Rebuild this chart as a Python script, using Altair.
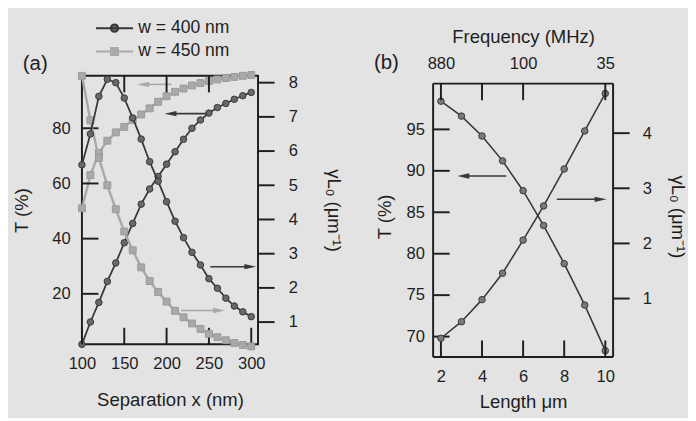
import altair as alt
import pandas as pd

FONT = "Liberation Sans"
INK = "#1e1e1e"
DARK_LINE = "#383838"
DARK_FILL = "#686868"
LIGHT = "#a9a9a9"
BG = "#e3e3e3"

# ---------------- panel (a) data ----------------
sep = [100, 110, 120, 130, 140, 150, 160, 170, 180, 190, 200,
       210, 220, 230, 240, 250, 260, 270, 280, 290, 300]
T_w400 = [1.7, 9.8, 16.9, 24.5, 31.2, 38.5, 45.5, 52.5, 58.0, 62.5, 67.0,
          71.5, 76.0, 80.0, 83.0, 85.5, 87.5, 89.0, 90.5, 91.8, 93.0]
g_w400 = [5.6, 6.5, 7.6, 8.1, 8.0, 7.55, 6.97, 6.35, 5.69, 5.12, 4.52,
          3.95, 3.47, 3.04, 2.67, 2.27, 1.99, 1.70, 1.47, 1.30, 1.16]
T_w450 = [51.0, 63.0, 71.0, 75.5, 78.5, 80.5, 83.0, 85.0, 87.2, 89.6, 91.6,
          93.2, 94.4, 95.5, 96.4, 97.1, 97.7, 98.2, 98.6, 99.0, 99.3]
g_w450 = [8.2, 6.9, 5.8, 5.0, 4.3, 3.65, 3.1, 2.6, 2.2, 1.88, 1.6,
          1.33, 1.14, 0.96, 0.8, 0.66, 0.56, 0.47, 0.39, 0.33, 0.29]

a_x_ticks = [100, 150, 200, 250, 300]
a_top_ticks = [150, 200, 250]
a_T_ticks = [20, 40, 60, 80]
a_g_ticks = [1, 2, 3, 4, 5, 6, 7, 8]

a_arrows_T = pd.DataFrame({"xt": [248.0, 205.7], "xh": [204.6, 172.4], "y": [85.3, 95.9],
                           "c": ["d", "l"]})
a_arrows_g = pd.DataFrame({"xt": [251.7, 217.0], "xh": [298.9, 262.0], "y": [2.62, 1.34],
                           "c": ["d", "l"]})

legend_names = ["w = 400 nm", "w = 450 nm"]

# ---------------- panel (b) data ----------------
length = [2, 3, 4, 5, 6, 7, 8, 9, 10]
T_b = [98.4, 96.6, 94.2, 91.2, 87.6, 83.4, 78.8, 73.8, 68.3]
g_b = [0.28, 0.58, 0.98, 1.46, 2.06, 2.68, 3.35, 4.04, 4.72]
b_x_ticks = [2, 4, 6, 8, 10]
b_top_ticks = [2, 4, 6, 10]
freq_at = [2, 6, 10]
freq_lab = ["880", "100", "35"]
b_T_ticks = [70, 75, 80, 85, 90, 95]
b_g_ticks = [1, 2, 3, 4]
b_arrow_T = pd.DataFrame({"xt": [5.18], "xh": [3.09], "y": [89.37]})
b_arrow_g = pd.DataFrame({"xt": [7.64], "xh": [9.77], "y": [2.8]})

LEFT_HEAD = "M-1,0L1,-0.45L1,0.45Z"
RIGHT_HEAD = "M1,0L-1,-0.45L-1,0.45Z"

TICK_LEN = 17
LBL = 17
TTL = 19
COMMON_AX = dict(ticks=False, domain=False, grid=False, labelFlush=False, labelOverlap=False)


def curve(df, X, Y, ycol, line_color, lw, shape, size, fill, stroke):
    line = alt.Chart(df).mark_line(color=line_color, strokeWidth=lw).encode(x=X, y=Y(ycol))
    pts = alt.Chart(df).mark_point(filled=True, shape=shape, size=size, fill=fill,
                                   stroke=stroke, strokeWidth=1, opacity=1).encode(x=X, y=Y(ycol))
    return [line, pts]


def arrows(df, X, Y, head, color):
    shaft = alt.Chart(df).mark_rule(color=color, strokeWidth=1.6).encode(
        x=X("xt"), x2="xh", y=Y("y"))
    tip = alt.Chart(df).mark_point(filled=True, shape=head, size=150, color=color,
                                   opacity=1).encode(x=X("xh"), y=Y("y"))
    return [shaft, tip]


def hmark(values, Y, xcenter):
    """short horizontal tick marks at the given y values"""
    return alt.Chart(pd.DataFrame({"tv": values})).mark_tick(
        color=INK, size=TICK_LEN, thickness=2, orient="horizontal", opacity=1).encode(
        y=Y("tv"), x=alt.value(xcenter))


def vmark(values, X, ycenter):
    """short vertical tick marks at the given x values"""
    return alt.Chart(pd.DataFrame({"tv": values})).mark_tick(
        color=INK, size=TICK_LEN, thickness=2, orient="vertical", opacity=1).encode(
        x=X("tv"), y=alt.value(ycenter))


# ================= panel (a) =================
WA, HA = 181, 276
xa_scale = alt.Scale(domain=[100.0, 308.0], nice=False, zero=False)
Ta_scale = alt.Scale(domain=[1.7, 99.0], nice=False, zero=False)
ga_scale = alt.Scale(domain=[0.35, 8.2], nice=False, zero=False)


def XA(field):
    return alt.X(field, type="quantitative", scale=xa_scale,
                 axis=alt.Axis(values=a_x_ticks, labelPadding=12, title="Separation x (nm)",
                               titlePadding=20, format="d", **COMMON_AX))


def YTa(field):
    return alt.Y(field, type="quantitative", scale=Ta_scale,
                 axis=alt.Axis(orient="left", values=a_T_ticks, labelPadding=12, title="T (%)",
                               titlePadding=21, **COMMON_AX))


def Yga(field):
    return alt.Y(field, type="quantitative", scale=ga_scale,
                 axis=alt.Axis(orient="right", values=a_g_ticks, labelPadding=TICK_LEN + 14,
                               title="γL₀ (μm⁻¹)", titlePadding=27, **COMMON_AX))


dfa = pd.DataFrame({"x": sep, "T4": T_w400, "g4": g_w400, "T5": T_w450, "g5": g_w450})

a_left = alt.layer(
    *curve(dfa, XA("x"), YTa, "T5", LIGHT, 2.5, "square", 50, LIGHT, "#999999"),
    *curve(dfa, XA("x"), YTa, "T4", DARK_LINE, 1.8, "circle", 45, DARK_FILL, DARK_LINE),
    *arrows(a_arrows_T[a_arrows_T.c == "l"], XA, YTa, LEFT_HEAD, LIGHT),
    *arrows(a_arrows_T[a_arrows_T.c == "d"], XA, YTa, LEFT_HEAD, DARK_LINE),
    hmark(a_T_ticks, YTa, TICK_LEN / 2),
    vmark(a_x_ticks, XA, HA - TICK_LEN / 2),
    vmark(a_top_ticks, XA, TICK_LEN / 2),
)

a_right = alt.layer(
    *curve(dfa, XA("x"), Yga, "g5", LIGHT, 2.5, "square", 50, LIGHT, "#999999"),
    *curve(dfa, XA("x"), Yga, "g4", DARK_LINE, 1.8, "circle", 45, DARK_FILL, DARK_LINE),
    *arrows(a_arrows_g[a_arrows_g.c == "l"], XA, Yga, RIGHT_HEAD, LIGHT),
    *arrows(a_arrows_g[a_arrows_g.c == "d"], XA, Yga, RIGHT_HEAD, DARK_LINE),
    hmark(a_g_ticks, Yga, WA + TICK_LEN / 2),
)

P_CIRC = "M-1,0L1,0M-0.2,0A0.2,0.2,0,1,1,0.2,0A0.2,0.2,0,1,1,-0.2,0Z"
P_SQR = "M-1,0L1,0M-0.19,-0.19L0.19,-0.19L0.19,0.19L-0.19,0.19Z"
LEG = alt.Legend(title=None, orient="none", legendX=13, legendY=-60, symbolSize=1450,
                 symbolStrokeWidth=2, labelFont=FONT, labelFontSize=18, labelColor=INK,
                 clipHeight=22, rowPadding=2, symbolOpacity=1, padding=0, labelOffset=4)
a_legend = alt.Chart(pd.DataFrame({"series": legend_names})).mark_point(
    filled=True, opacity=0).encode(
    fill=alt.Fill("series:N", scale=alt.Scale(domain=legend_names, range=[DARK_FILL, LIGHT]), legend=LEG),
    stroke=alt.Stroke("series:N", scale=alt.Scale(domain=legend_names, range=[DARK_LINE, LIGHT]), legend=LEG),
    shape=alt.Shape("series:N", scale=alt.Scale(domain=legend_names, range=[P_CIRC, P_SQR]), legend=LEG),
)

a_label = alt.Chart(pd.DataFrame({"t": ["(a)"]})).mark_text(
    font=FONT, fontSize=21, color=INK, align="center", baseline="middle").encode(
    text="t:N", x=alt.value(-48), y=alt.value(-12))

panel_a = alt.layer(a_left, a_right, a_legend, a_label).resolve_scale(
    y="independent", fill="independent", stroke="independent", shape="independent"
).properties(width=WA, height=HA)

# ================= panel (b) =================
# the (b) frame sits TOPGAP px below the top of its view (its box is drawn with rules)
TOPGAP = 8
WB, HB = 185, 289
xb_scale = alt.Scale(domain=[1.62, 10.38], nice=False, zero=False)
Tb_scale = alt.Scale(domain=[67.54, 101.46], nice=False, zero=False)
gb_scale = alt.Scale(domain=[-0.06, 5.04], nice=False, zero=False)


def XB(field):
    return alt.X(field, type="quantitative", scale=xb_scale,
                 axis=alt.Axis(values=b_x_ticks, labelPadding=12, title="Length μm",
                               titlePadding=9, **COMMON_AX))


def XB_none(field):
    return alt.X(field, type="quantitative", scale=xb_scale, axis=None)


freq_expr = " : ".join(f"datum.value == {v} ? '{l}'" for v, l in zip(freq_at, freq_lab)) + " : ''"


def XB_top(field):
    return alt.X(field, type="quantitative", scale=xb_scale,
                 axis=alt.Axis(orient="top", values=b_x_ticks, labelPadding=12,
                               labelExpr=freq_expr, offset=-TOPGAP,
                               title="Frequency (MHz)", titlePadding=8, **COMMON_AX))


def YTb(field):
    return alt.Y(field, type="quantitative", scale=Tb_scale,
                 axis=alt.Axis(orient="left", values=b_T_ticks, labelPadding=9, title="T (%)",
                               titlePadding=12, **COMMON_AX))


def Ygb(field):
    return alt.Y(field, type="quantitative", scale=gb_scale,
                 axis=alt.Axis(orient="right", values=b_g_ticks, labelPadding=TICK_LEN + 13,
                               title="γL₀ (μm⁻¹)", titlePadding=17, **COMMON_AX))


dfb = pd.DataFrame({"L": length, "T": T_b, "g": g_b})


def frame(enc):
    return alt.Chart(pd.DataFrame({"k": [0]})).mark_rule(color=INK, strokeWidth=2).encode(**enc)


b_left = alt.layer(
    *curve(dfb, XB("L"), YTb, "T", DARK_LINE, 1.6, "circle", 45, "#7a7a7a", DARK_LINE),
    *arrows(b_arrow_T, XB, YTb, LEFT_HEAD, DARK_LINE),
    hmark(b_T_ticks, YTb, TICK_LEN / 2),
    vmark(b_x_ticks, XB, HB - TICK_LEN / 2),
    frame(dict(x=alt.value(0), x2=alt.value(WB), y=alt.value(TOPGAP))),
    frame(dict(x=alt.value(0), x2=alt.value(WB), y=alt.value(HB))),
    frame(dict(x=alt.value(0), y=alt.value(TOPGAP), y2=alt.value(HB))),
    frame(dict(x=alt.value(WB), y=alt.value(TOPGAP), y2=alt.value(HB))),
)

b_right = alt.layer(
    *curve(dfb, XB_none("L"), Ygb, "g", DARK_LINE, 1.6, "circle", 45, "#7a7a7a", DARK_LINE),
    *arrows(b_arrow_g, XB_none, Ygb, RIGHT_HEAD, DARK_LINE),
    hmark(b_g_ticks, Ygb, WB + TICK_LEN / 2),
)

b_top = vmark(b_top_ticks, XB_top, TOPGAP + TICK_LEN / 2)

b_label = alt.Chart(pd.DataFrame({"t": ["(b)"]})).mark_text(
    font=FONT, fontSize=21, color=INK, align="center", baseline="middle").encode(
    text="t:N", x=alt.value(-48), y=alt.value(-13))

panel_b = alt.layer(b_left, b_right, b_top, b_label).resolve_scale(
    y="independent").resolve_axis(x="independent").properties(
    width=WB, height=HB, view=alt.ViewBackground(stroke="transparent"))

chart = alt.hconcat(panel_a, panel_b, spacing=30).properties(
    padding={"left": 4, "top": 3, "right": 0, "bottom": 0}
).configure(background=BG, font=FONT).configure_view(
    stroke=INK, strokeWidth=2
).configure_axis(
    labelFont=FONT, labelFontSize=LBL, labelColor=INK, titleFont=FONT, titleFontSize=TTL,
    titleFontWeight="normal", titleColor=INK
)

chart.save("out.html", embed_options={"renderer": "svg", "actions": False})
